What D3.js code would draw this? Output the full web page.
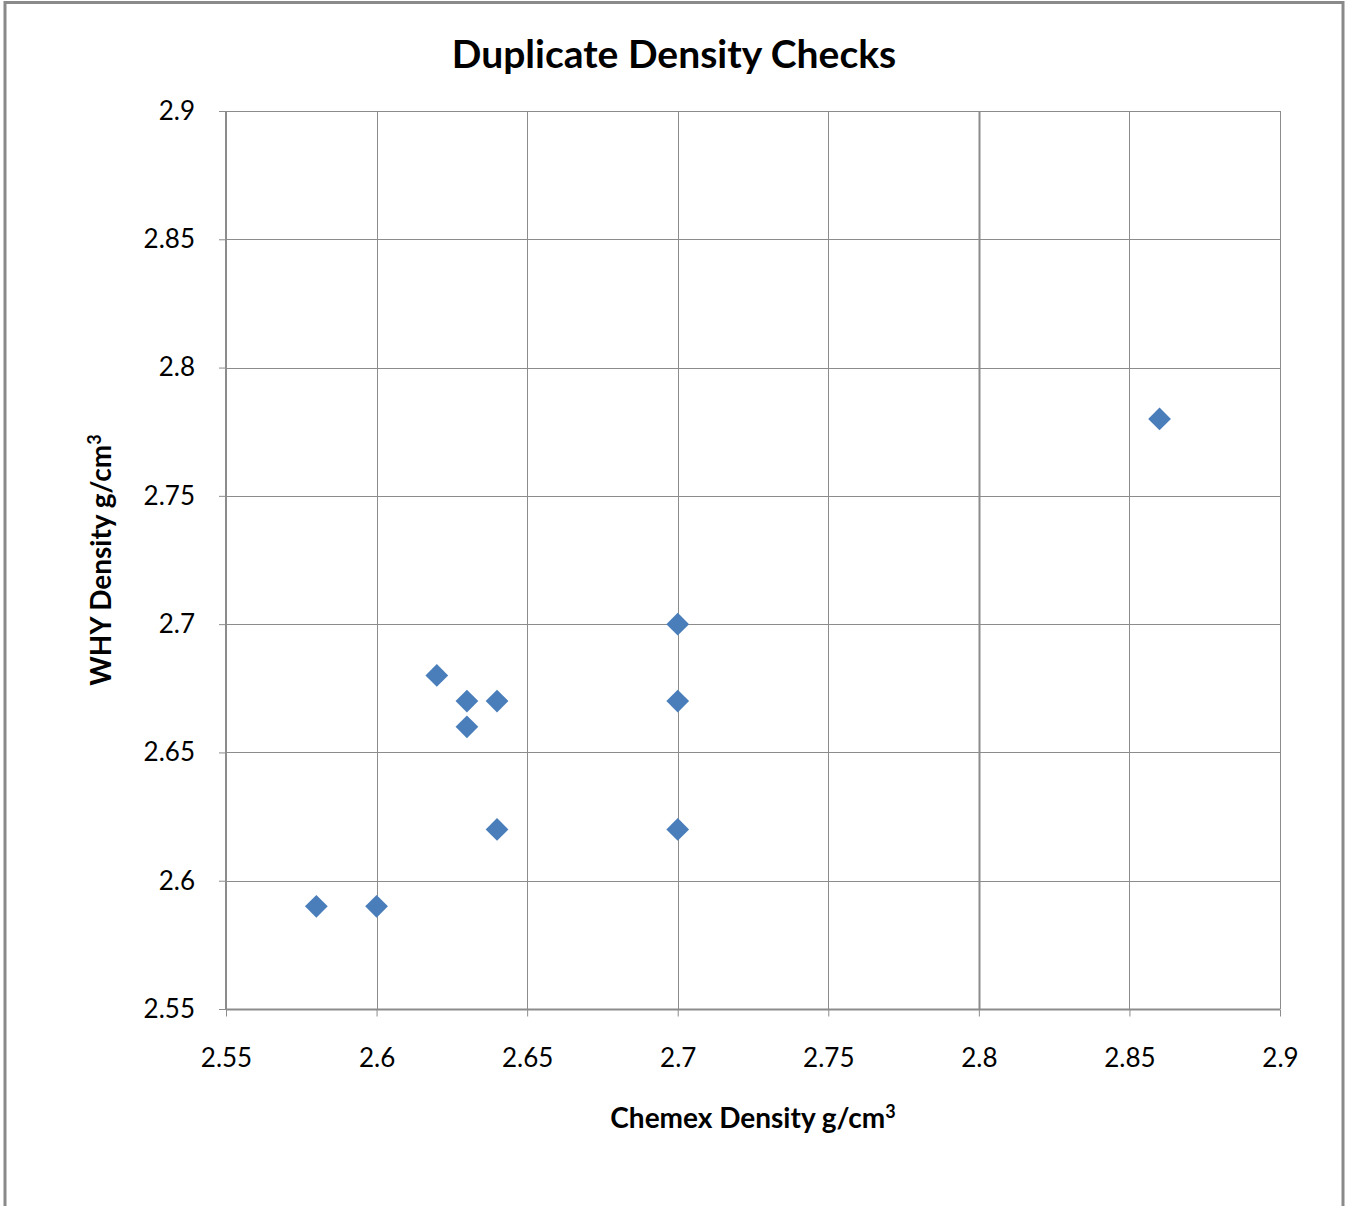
<!DOCTYPE html>
<html>
<head>
<meta charset="utf-8">
<script src="https://cdn.jsdelivr.net/npm/d3@7"></script>
<style>
  html, body { margin: 0; padding: 0; background: #fff; }
  svg { display: block; }
  text { font-family: Lato, "Open Sans", sans-serif; fill: #000; }
</style>
</head>
<body>
<div id="chart"></div>
<script>
// --------------- Data ---------------
const chemexDensity = [2.58, 2.6, 2.62, 2.63, 2.63, 2.64, 2.64, 2.7, 2.7, 2.7, 2.86];
const whyDensity = [2.59, 2.59, 2.68, 2.67, 2.66, 2.67, 2.62, 2.7, 2.67, 2.62, 2.78];
const xTicks = [2.55, 2.6, 2.65, 2.7, 2.75, 2.8, 2.85, 2.9];
const yTicks = [2.55, 2.6, 2.65, 2.7, 2.75, 2.8, 2.85, 2.9];

// --------------- Constants ---------------
const WIDTH = 1345;
const HEIGHT = 1206;
const PLOT = { left: 226, right: 1280, top: 111, bottom: 1009 };
const GRID_COLOR = "#8c8c8c";
const MARKER_COLOR = "#4a7ebb";

const svg = d3
  .select("#chart")
  .append("svg")
  .attr("width", WIDTH)
  .attr("height", HEIGHT);

// outer frame
svg.append("path")
  .attr("d", `M5,${HEIGHT} V2.5 H1343 V${HEIGHT}`)
  .attr("fill", "none")
  .attr("stroke", "#8a8a8a")
  .attr("stroke-width", 3);

const x = d3.scaleLinear().domain([2.55, 2.9]).range([PLOT.left, PLOT.right]);
const y = d3.scaleLinear().domain([2.55, 2.9]).range([PLOT.bottom, PLOT.top]);

// gridlines
svg.append("g")
  .selectAll("line")
  .data(yTicks)
  .enter()
  .append("line")
  .attr("x1", PLOT.left)
  .attr("x2", PLOT.right)
  .attr("y1", (d) => Math.round(y(d)) + 0.5)
  .attr("y2", (d) => Math.round(y(d)) + 0.5)
  .attr("stroke", GRID_COLOR)
  .attr("stroke-width", 1);

svg.append("g")
  .selectAll("line")
  .data(xTicks)
  .enter()
  .append("line")
  .attr("x1", (d) => Math.round(x(d)) + 0.5)
  .attr("x2", (d) => Math.round(x(d)) + 0.5)
  .attr("y1", PLOT.top)
  .attr("y2", PLOT.bottom)
  .attr("stroke", GRID_COLOR)
  .attr("stroke-width", (d) => (Math.abs(d - 2.8) < 1e-9 ? 2 : 1));

// axes
const fmt = (d) => String(+d.toFixed(2));
const xAxis = d3.axisBottom(x).tickValues(xTicks).tickSize(7).tickPadding(32).tickFormat(fmt);
const yAxis = d3.axisLeft(y).tickValues(yTicks).tickSize(7).tickPadding(24).tickFormat(fmt);

const gx = svg.append("g")
  .attr("transform", `translate(0,${PLOT.bottom + 0.5})`)
  .call(xAxis);
const gy = svg.append("g")
  .attr("transform", `translate(${PLOT.left},0)`)
  .call(yAxis);

[gx, gy].forEach((g) => {
  g.select(".domain").attr("stroke", GRID_COLOR).attr("stroke-width", 2);
  g.selectAll(".tick line").attr("stroke", GRID_COLOR);
  g.selectAll(".tick text")
    .attr("font-family", "Lato, 'Open Sans', sans-serif")
    .attr("font-size", 26)
    .attr("fill", "#000");
});
gy.select(".domain").attr("d", `M0,${PLOT.top}V${PLOT.bottom}`);
gx.select(".domain").attr("d", `M${PLOT.left},0H${PLOT.right}`);

// points
const diamond = d3.symbol().type(d3.symbolDiamond2).size(330);
svg.append("g")
  .selectAll("path")
  .data(chemexDensity.map((c, i) => ({ c, w: whyDensity[i] })))
  .enter()
  .append("path")
  .attr("d", diamond)
  .attr("transform", (d) => `translate(${x(d.c)},${y(d.w)})`)
  .attr("fill", MARKER_COLOR);

// title
svg.append("text")
  .attr("x", 674)
  .attr("y", 68)
  .attr("text-anchor", "middle")
  .attr("font-size", 39)
  .attr("font-weight", "bold")
  .text("Duplicate Density Checks");

// axis titles
const xTitle = svg.append("text")
  .attr("x", 753)
  .attr("y", 1128)
  .attr("text-anchor", "middle")
  .attr("font-size", 28)
  .attr("font-weight", "bold");
xTitle.append("tspan").text("Chemex Density g/cm");
xTitle.append("tspan").attr("dy", -10).attr("font-size", 18).text("3");

const yTitle = svg.append("text")
  .attr("transform", "translate(111,560) rotate(-90)")
  .attr("text-anchor", "middle")
  .attr("font-size", 28)
  .attr("font-weight", "bold");
yTitle.append("tspan").text("WHY Density g/cm");
yTitle.append("tspan").attr("dy", -10).attr("font-size", 18).text("3");
</script>
</body>
</html>
